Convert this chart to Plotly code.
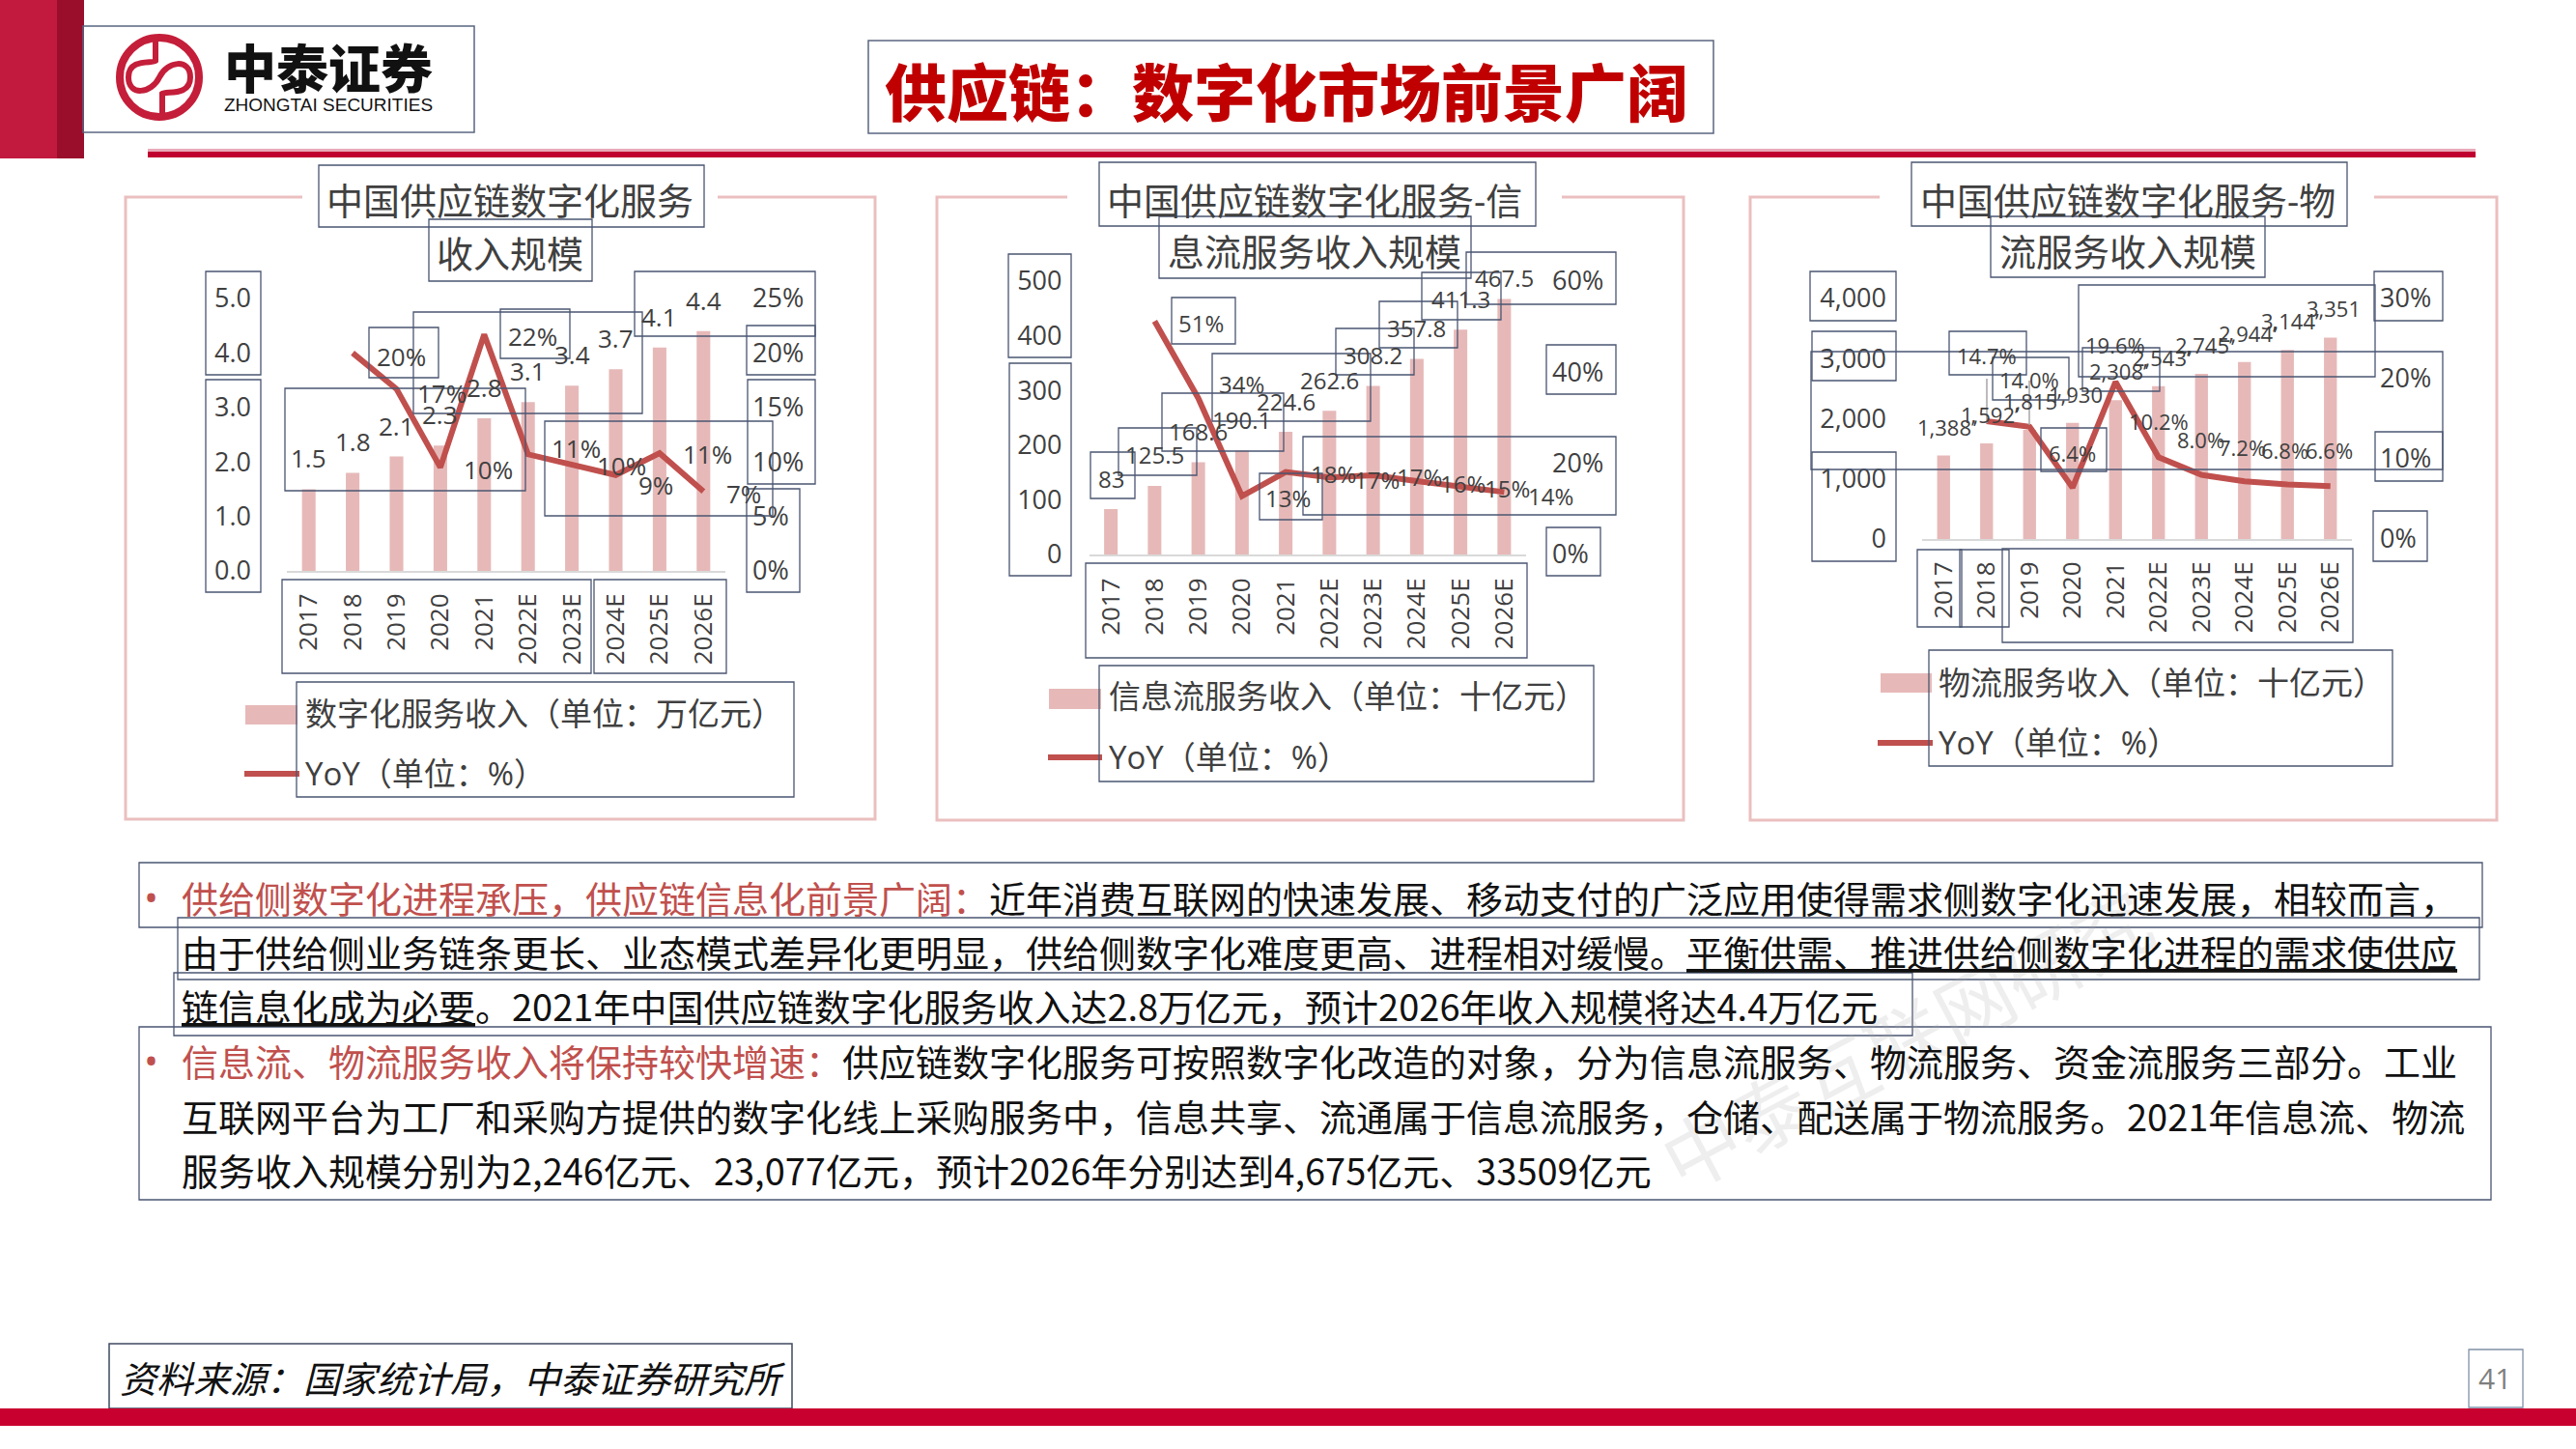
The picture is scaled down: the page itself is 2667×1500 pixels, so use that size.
import plotly.graph_objects as go

W, H = 2667, 1500

# ---------------- data ----------------
years = ["2017", "2018", "2019", "2020", "2021", "2022E", "2023E", "2024E", "2025E", "2026E"]
yoy_years = ["2018", "2019", "2020", "2021", "2022E", "2023E", "2024E", "2025E", "2026E"]

total_rev = [1.5, 1.8, 2.1, 2.3, 2.8, 3.1, 3.4, 3.7, 4.1, 4.4]
total_rev_text = ["1.5", "1.8", "2.1", "2.3", "2.8", "3.1", "3.4", "3.7", "4.1", "4.4"]
total_yoy = [20.0, 16.7, 9.5, 21.7, 10.7, 9.7, 8.8, 10.8, 7.3]
total_yoy_text = ["20%", "17%", "10%", "22%", "11%", "10%", "9%", "11%", "7%"]
total_left_ticks = [0, 1, 2, 3, 4, 5]
total_right_ticks = [0, 5, 10, 15, 20, 25]

info_rev = [83, 125.5, 168.6, 190.1, 224.6, 262.6, 308.2, 357.8, 411.3, 467.5]
info_rev_text = ["83", "125.5", "168.6", "190.1", "224.6", "262.6", "308.2", "357.8", "411.3", "467.5"]
info_yoy = [51.2, 34.3, 12.8, 18.1, 16.9, 17.4, 16.1, 15.0, 13.7]
info_yoy_text = ["51%", "34%", "13%", "18%", "17%", "17%", "16%", "15%", "14%"]
info_left_ticks = [0, 100, 200, 300, 400, 500]
info_right_ticks = [0, 20, 40, 60]

logi_rev = [1388, 1592, 1815, 1930, 2308, 2543, 2745, 2944, 3144, 3351]
logi_rev_text = ["1,388’", "1,592’", "1,815’", "1,930", "2,308’", "2,543’", "2,745’", "2,944’", "3,144’", "3,351"]
logi_yoy = [14.7, 14.0, 6.4, 19.6, 10.2, 8.0, 7.2, 6.8, 6.6]
logi_yoy_text = ["14.7%", "14.0%", "6.4%", "19.6%", "10.2%", "8.0%", "7.2%", "6.8%", "6.6%"]
logi_left_ticks = [0, 1000, 2000, 3000, 4000]
logi_right_ticks = [0, 10, 20, 30]

# ---------------- styles ----------------
FONT = "Open Sans, Noto Sans CJK SC, sans-serif"
CJK = "Noto Sans CJK SC, sans-serif"
GRAY = "#404040"
BAR = "#E6B9B8"
LINE = "#C0504D"
FRAME = "#EBBFBF"
BOX = "#4A5572"
RED = "#C0002F"


def px(x):
    return x / W


def py(y):
    return 1 - y / H


shapes = []
annotations = []


def rect(x0, y0, x1, y1, line=BOX, lw=1.3, fill=None, layer="above"):
    shapes.append(dict(type="rect", xref="paper", yref="paper",
                       x0=px(x0), x1=px(x1), y0=py(y1), y1=py(y0),
                       line=dict(color=line, width=lw) if lw else dict(width=0),
                       fillcolor=fill or "rgba(0,0,0,0)", layer=layer))


def seg(x0, y0, x1, y1, color, lw):
    shapes.append(dict(type="line", xref="paper", yref="paper",
                       x0=px(x0), x1=px(x1), y0=py(y0), y1=py(y1),
                       line=dict(color=color, width=lw), layer="above"))


def text(x, y, s, size, color=GRAY, xanchor="center", family=FONT, angle=0, weight=None):
    f = dict(size=size, color=color, family=family)
    if weight:
        f["weight"] = weight
    annotations.append(dict(xref="paper", yref="paper", x=px(x), y=py(y), text=s,
                            showarrow=False, xanchor=xanchor, yanchor="middle",
                            font=f, textangle=angle))


charts = [
    dict(rev=total_rev, rev_text=total_rev_text, yoy=total_yoy, yoy_text=total_yoy_text,
         lticks=total_left_ticks, rticks=total_right_ticks, lrange=[0, 5], rrange=[0, 25],
         lfmt=".1f", xdom=(297, 751), ybase=591, ytop=309, barw=0.31,
         lstand=36, rstand=27, catstand=11, lab=26,
         bar_dx=[0] * 10, bar_dy=[32] * 10,
         yoy_shift=[(50, -4), (47, -4), (50, -2), (50, -2), (50, 6), (51, 0), (41, -10), (50, -1), (42, -2)],
         frame=(130, 906, 204, 848, 313, 743),
         title=("中国供应链数字化服务", "收入规模"), tpos=(528, 207, 528, 262),
         leg=dict(bar=(254, 730, 308, 750), line=(253, 310, 801), tx=314, ty1=739, ty2=800),
         legtext=("数字化服务收入（单位：万亿元）", "YoY（单位：%）"),
         boxes=[(330, 171, 729, 235), (444, 227, 613, 291), (213, 281, 270, 388), (213, 393, 270, 613),
                (382, 339, 454, 391), (428, 323, 665, 428), (518, 320, 590, 371), (295, 402, 544, 508),
                (564, 436, 800, 534), (657, 281, 844, 348), (773, 337, 844, 388), (774, 393, 844, 501),
                (773, 506, 828, 613), (292, 600, 612, 697), (615, 600, 752, 697), (307, 706, 822, 825)]),
    dict(rev=info_rev, rev_text=info_rev_text, yoy=info_yoy, yoy_text=info_yoy_text,
         lticks=info_left_ticks, rticks=info_right_ticks, lrange=[0, 500], rrange=[0, 60],
         lfmt="d", xdom=(1127.5, 1580), ybase=574, ytop=291, barw=0.31,
         lstand=27, rstand=26, catstand=12, lab=24,
         bar_dx=[0] * 10, bar_dy=[32, 32, 32, 32, 31, 32, 32, 32, 32, 22],
         yoy_shift=[(48, -2), (45, 15), (48, -2), (49, -2), (49, -2), (48, -2), (48, -2), (48, -2), (48, -4)],
         frame=(970, 1743, 204, 849, 1105, 1617),
         title=("中国供应链数字化服务-信", "息流服务收入规模"), tpos=(1361, 207, 1361, 260),
         leg=dict(bar=(1086, 713, 1140, 734), line=(1085, 1141, 784), tx=1146, ty1=720, ty2=783),
         legtext=("信息流服务收入（单位：十亿元）", "YoY（单位：%）"),
         boxes=[(1138, 168, 1590, 234), (1200, 224, 1523, 288), (1044, 263, 1109, 370), (1045, 376, 1109, 596),
                (1213, 308, 1279, 356), (1129, 468, 1175, 516), (1158, 443, 1239, 492), (1203, 407, 1329, 467),
                (1255, 366, 1419, 436), (1383, 340, 1464, 388), (1428, 312, 1509, 360), (1472, 282, 1554, 331),
                (1518, 261, 1673, 315), (1601, 357, 1673, 408), (1349, 452, 1673, 533), (1304, 490, 1369, 538),
                (1601, 546, 1657, 596), (1124, 583, 1581, 681), (1138, 689, 1650, 809)]),
    dict(rev=logi_rev, rev_text=logi_rev_text, yoy=logi_yoy, yoy_text=logi_yoy_text,
         lticks=logi_left_ticks, rticks=logi_right_ticks, lrange=[0, 4000], rrange=[0, 30],
         lfmt=",d", xdom=(1990, 2435), ybase=558, ytop=309, barw=0.30,
         lstand=36, rstand=28, catstand=11, lab=22,
         bar_dx=[3] * 10, bar_dy=[30] * 10,
         yoy_shift=[(0, 68), (0, 49), (0, 36), (0, 38), (0, 37), (-1, 37), (-2, 35), (-3, 36), (-1, 37)],
         frame=(1812, 2585, 204, 849, 1946, 2458),
         title=("中国供应链数字化服务-物", "流服务收入规模"), tpos=(2203, 207, 2203, 260),
         leg=dict(bar=(1947, 697, 2000, 717), line=(1944, 2001, 769), tx=2005, ty1=706, ty2=768),
         legtext=("物流服务收入（单位：十亿元）", "YoY（单位：%）"),
         boxes=[(1979, 168, 2430, 234), (2061, 224, 2345, 287), (1874, 281, 1963, 332), (1876, 343, 1963, 394),
                (1875, 364, 2529, 486), (1876, 468, 1963, 581), (2018, 343, 2098, 388), (2063, 370, 2142, 414),
                (2113, 443, 2181, 488), (2156, 360, 2236, 405), (2152, 295, 2459, 390), (2458, 281, 2529, 332),
                (2459, 447, 2529, 498), (2457, 529, 2513, 581), (1985, 569, 2031, 649), (2029, 569, 2080, 649),
                (2073, 568, 2436, 665), (1997, 673, 2477, 793)]),
]

fig = go.Figure()
layout = {}

# watermark first (under everything)
text(1972, 1073, "中泰互联网研究", 80, color="rgba(170,170,170,0.2)", family=CJK, angle=-28)

for i, c in enumerate(charts):
    xn = "" if i == 0 else str(i + 1)
    yl = "" if i == 0 else str(2 * i + 1)
    yr = str(2 * i + 2)
    fig.add_trace(go.Bar(x=years, y=c["rev"], xaxis="x" + xn, yaxis="y" + yl,
                         marker=dict(color=BAR, line=dict(width=0)), width=c["barw"],
                         hoverinfo="skip", showlegend=False))
    fig.add_trace(go.Scatter(x=yoy_years, y=c["yoy"], xaxis="x" + xn, yaxis="y" + yr,
                             mode="lines", line=dict(color=LINE, width=6),
                             hoverinfo="skip", showlegend=False))
    tf = dict(size=27, color=GRAY, family=FONT)
    layout["xaxis" + xn] = dict(domain=[px(c["xdom"][0]), px(c["xdom"][1])], anchor="y" + yl,
                                type="category", categoryorder="array", categoryarray=years,
                                range=[-0.5, 9.5], showline=True, linecolor="#D9D9D9", linewidth=2,
                                showgrid=False, zeroline=False, ticks="", tickangle=-90,
                                tickfont=dict(size=26, color=GRAY, family=FONT),
                                ticklabelstandoff=c["catstand"], automargin=False, fixedrange=True)
    layout["yaxis" + yl] = dict(domain=[py(c["ybase"]), py(c["ytop"])], anchor="x" + xn,
                                range=c["lrange"], tickvals=c["lticks"], tickformat=c["lfmt"],
                                showgrid=False, zeroline=False, showline=False, ticks="",
                                tickfont=tf, ticklabelstandoff=c["lstand"], automargin=False,
                                fixedrange=True)
    layout["yaxis" + yr] = dict(overlaying="y" + yl, side="right", anchor="x" + xn,
                                range=c["rrange"], tickvals=c["rticks"],
                                ticktext=[f"{v}%" for v in c["rticks"]],
                                showgrid=False, zeroline=False, showline=False, ticks="",
                                tickfont=tf, ticklabelstandoff=c["rstand"], automargin=False,
                                fixedrange=True)
    # bar value labels (x given as category index)
    for k, (yv, t) in enumerate(zip(c["rev"], c["rev_text"])):
        annotations.append(dict(xref="x" + xn, yref="y" + yl, x=k, y=yv, text=t,
                                showarrow=False, xanchor="center", yanchor="middle",
                                xshift=c["bar_dx"][k], yshift=c["bar_dy"][k],
                                font=dict(size=c["lab"], color=GRAY, family=FONT)))
    # yoy labels
    for k, (yv, t) in enumerate(zip(c["yoy"], c["yoy_text"])):
        dx, dy = c["yoy_shift"][k]
        annotations.append(dict(xref="x" + xn, yref="y" + yr, x=k + 1, y=yv, text=t,
                                showarrow=False, xanchor="center", yanchor="middle",
                                xshift=dx, yshift=dy,
                                font=dict(size=c["lab"], color=GRAY, family=FONT)))
    # frame with gap for title
    l, r, t_, b, g0, g1 = c["frame"]
    shapes.append(dict(type="path", xref="paper", yref="paper",
                       path=f"M {px(g0)},{py(t_)} L {px(l)},{py(t_)} L {px(l)},{py(b)} "
                            f"L {px(r)},{py(b)} L {px(r)},{py(t_)} L {px(g1)},{py(t_)}",
                       line=dict(color=FRAME, width=3), layer="below"))
    # titles
    tx1, ty1, tx2, ty2 = c["tpos"]
    text(tx1, ty1, c["title"][0], 38, family=FONT)
    text(tx2, ty2, c["title"][1], 38, family=FONT)
    # legend
    lg = c["leg"]
    bx0, by0, bx1, by1 = lg["bar"]
    rect(bx0, by0, bx1, by1, lw=0, fill=BAR)
    lx0, lx1, ly = lg["line"]
    seg(lx0, ly, lx1, ly, LINE, 6)
    text(lg["tx"], lg["ty1"], c["legtext"][0], 33, xanchor="left")
    text(lg["tx"], lg["ty2"], c["legtext"][1], 33, xanchor="left")
    for bxs in c["boxes"]:
        rect(*bxs)

# leader lines in chart 3
seg(2057, 392, 2057, 438, "#A6A6A6", 1.5)
seg(2101, 394, 2101, 440, "#A6A6A6", 1.5)

# ---------------- header ----------------
rect(0, 0, 59, 164, lw=0, fill="#C2193F")
rect(59, 0, 87, 164, lw=0, fill="#9A0E2C")
rect(86, 27, 491, 137, line="#5A6680", lw=1.5)
# logo
LOGO = "#C41E3A"
shapes.append(dict(type="circle", xref="paper", yref="paper", x0=px(124), x1=px(206), y0=py(121), y1=py(39),
                   line=dict(color=LOGO, width=8), layer="above"))
logo_pts = [("M", 161, 43), ("L", 161, 63), ("C", 158, 66), ("", 133, 60), ("", 133, 80),
            ("C", 133, 100), ("", 157, 97), ("", 165, 80), ("C", 173, 63), ("", 197, 60), ("", 197, 80),
            ("C", 197, 100), ("", 172, 94), ("", 168, 97), ("L", 168, 117)]
logo_path = " ".join(f"{cmd} {px(x):.6f},{py(y):.6f}".strip() for cmd, x, y in logo_pts)
shapes.append(dict(type="path", xref="paper", yref="paper", path=logo_path,
                   line=dict(color=LOGO, width=6), layer="above"))
text(340, 68, "中泰证券", 54, color="#111111", family=CJK, weight=900)
text(340, 109, "ZHONGTAI SECURITIES", 19, color="#111111", family="Liberation Sans Narrow, Liberation Sans, Arial")
# title
rect(899, 42, 1774, 138, line="#5A6680", lw=1.5)
text(1332, 92, "供应链：数字化市场前景广阔", 64, color="#C00000", family=CJK, weight=900)
# header rule
rect(153, 154, 2563, 157, lw=0, fill="#E8A8B8")
rect(153, 157, 2563, 163, lw=0, fill=RED)

# ---------------- body text ----------------
TRED = "#C0504D"
BODY = 38
rect(144, 893, 2570, 960)
rect(184, 950, 2567, 1014)
rect(180, 1007, 1980, 1072)
rect(144, 1063, 2579, 1242)
text(156, 929, "•", 40, color=TRED, family=FONT)
text(156, 1097, "•", 40, color=TRED, family=FONT)
lines = [
    (929, f'<span style="color:{TRED}">供给侧数字化进程承压，供应链信息化前景广阔：</span>'
          '近年消费互联网的快速发展、移动支付的广泛应用使得需求侧数字化迅速发展，相较而言，'),
    (984, '由于供给侧业务链条更长、业态模式差异化更明显，供给侧数字化难度更高、进程相对缓慢。'
          '<u>平衡供需、推进供给侧数字化进程的需求使供应</u>'),
    (1040, '<u>链信息化成为必要</u>。2021年中国供应链数字化服务收入达2.8万亿元，预计2026年收入规模将达4.4万亿元'),
    (1097, f'<span style="color:{TRED}">信息流、物流服务收入将保持较快增速：</span>'
           '供应链数字化服务可按照数字化改造的对象，分为信息流服务、物流服务、资金流服务三部分。工业'),
    (1154, '互联网平台为工厂和采购方提供的数字化线上采购服务中，信息共享、流通属于信息流服务，仓储、配送属于物流服务。2021年信息流、物流'),
    (1210, '服务收入规模分别为2,246亿元、23,077亿元，预计2026年分别达到4,675亿元、33509亿元'),
]
for y, s in lines:
    text(186, y, s, BODY, color="#111111", xanchor="left", family=CJK)

# ---------------- footer ----------------
rect(113, 1391, 820, 1458, line="#3F4A60", lw=1.5)
text(122, 1425, "<i>资料来源：国家统计局，中泰证券研究所</i>", 38, color="#111111", xanchor="left", family=CJK)
rect(2556, 1397, 2612, 1457, line="#8090A8", lw=1.3)
text(2583, 1426, "41", 30, color="#7F7F7F", family=FONT)
rect(0, 1458, W, 1476, lw=0, fill="#C8002F")

fig.update_layout(
    width=W, height=H, margin=dict(l=0, r=0, t=0, b=0, pad=0, autoexpand=False),
    paper_bgcolor="white", plot_bgcolor="rgba(0,0,0,0)",
    showlegend=False, template="none",
    shapes=shapes, annotations=annotations,
    font=dict(family=FONT, color=GRAY),
    **layout,
)

fig.write_html("out.html", config={"displayModeBar": False},
               post_script="document.body.style.margin='0px';document.body.style.overflow='hidden';")
